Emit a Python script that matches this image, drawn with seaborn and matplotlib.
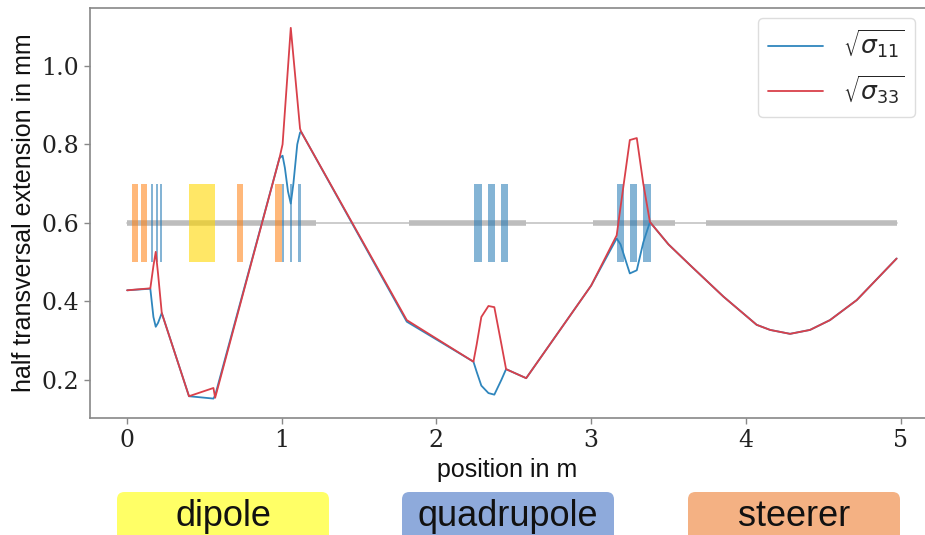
import numpy as np
import pandas as pd
import matplotlib
matplotlib.use("Agg")
import matplotlib.pyplot as plt
import seaborn as sns
from matplotlib.patches import FancyBboxPatch

# beam envelope along the beamline
position = [0.00, 0.15, 0.17, 0.185, 0.20, 0.224, 0.40, 0.558, 0.569, 0.985,
            1.005, 1.02, 1.04, 1.058, 1.075, 1.10, 1.118, 1.125, 1.808, 2.239,
            2.26, 2.29, 2.336, 2.374, 2.42, 2.45, 2.58, 3.00, 3.165, 3.19,
            3.25, 3.295, 3.337, 3.38, 3.50, 3.64, 3.855, 4.07, 4.157, 4.286,
            4.415, 4.544, 4.717, 4.975]
sigma11 = [0.428, 0.432, 0.36, 0.335, 0.345, 0.37, 0.158, 0.152, 0.16, 0.765,
           0.771, 0.74, 0.68, 0.649, 0.70, 0.80, 0.830, 0.832, 0.348, 0.246,
           0.22, 0.185, 0.166, 0.162, 0.20, 0.227, 0.204, 0.44, 0.56, 0.545,
           0.471, 0.479, 0.55, 0.602, 0.545, 0.492, 0.412, 0.34, 0.327, 0.317,
           0.327, 0.352, 0.403, 0.509]
sigma33 = [0.428, 0.433, 0.49, 0.526, 0.47, 0.37, 0.158, 0.179, 0.154, 0.765,
           0.80, 0.884, 0.996, 1.097, 1.024, 0.917, 0.840, 0.832, 0.352, 0.246,
           0.29, 0.36, 0.388, 0.385, 0.29, 0.227, 0.204, 0.44, 0.568, 0.64,
           0.811, 0.816, 0.70, 0.602, 0.545, 0.492, 0.412, 0.34, 0.327, 0.317,
           0.327, 0.352, 0.403, 0.509]

# lattice elements: (start, end) in m
steerers = [(0.03, 0.07), (0.09, 0.13), (0.71, 0.75), (0.955, 1.0)]
quadrupoles = [(0.153, 0.17), (0.185, 0.20), (0.213, 0.228),
               (1.0, 1.017), (1.05, 1.066), (1.107, 1.125),
               (2.245, 2.293), (2.33, 2.377), (2.415, 2.463),
               (3.165, 3.215), (3.25, 3.295), (3.337, 3.385)]
dipoles = [(0.40, 0.565)]
pipes = [(0.0, 1.22), (1.82, 2.58), (3.015, 3.54), (3.74, 4.98)]

df = pd.DataFrame({"position": position, "s11": sigma11, "s33": sigma33})

sns.set_style("white")
plt.rcParams['font.family'] = ['Liberation Sans', 'DejaVu Sans']
plt.rcParams['mathtext.fontset'] = 'dejavusans'

fig = plt.figure(figsize=(9.25, 5.35), dpi=100)
ax = fig.add_axes([90 / 925, 117 / 535, 835 / 925, 410 / 535])

# lattice drawing
ax.plot([0.0, 4.98], [0.6, 0.6], color='#c4c4c4', lw=1.2, zorder=1)
for a, b in pipes:
    ax.plot([a, b], [0.6, 0.6], color='#bdbdbd', lw=4, solid_capstyle='butt', zorder=1)
ax.bar([a for a, b in dipoles], 0.2, width=[b - a for a, b in dipoles], bottom=0.5,
       align='edge', color='#ffd700', alpha=0.6, lw=0, zorder=2)
ax.bar([a for a, b in steerers], 0.2, width=[b - a for a, b in steerers], bottom=0.5,
       align='edge', color='#ff7f0e', alpha=0.55, lw=0, zorder=2)
ax.bar([a for a, b in quadrupoles], 0.2, width=[b - a for a, b in quadrupoles], bottom=0.5,
       align='edge', color='#1f77b4', alpha=0.55, lw=0, zorder=2)

sns.lineplot(data=df, x="position", y="s11", ax=ax, color='#2f86bd', lw=1.3,
             estimator=None, label=r'$\sqrt{\sigma_{11}}$', zorder=3)
sns.lineplot(data=df, x="position", y="s33", ax=ax, color='#d9404a', lw=1.3,
             estimator=None, label=r'$\sqrt{\sigma_{33}}$', zorder=4)

ax.set_xlim(-0.24, (925 - 127) / 154.7)
ax.set_ylim(0.1025, 1.1475)
ax.set_xticks([0, 1, 2, 3, 4, 5])
ax.set_yticks([0.2, 0.4, 0.6, 0.8, 1.0])
ax.set_xticklabels(['0', '1', '2', '3', '4', '5'], family='DejaVu Serif', fontsize=17)
ax.set_yticklabels(['0.2', '0.4', '0.6', '0.8', '1.0'], family='DejaVu Serif', fontsize=17)
ax.tick_params(axis='both', length=4, width=1, color='#888888', labelcolor='#222222',
               direction='out', bottom=True, left=True, pad=4)
for side in ['left', 'top', 'bottom']:
    ax.spines[side].set_color('#888888')
    ax.spines[side].set_linewidth(1.2)
ax.spines['right'].set_visible(False)

ax.set_xlabel('position in m', fontsize=18, labelpad=4, color='#111111')
ax.set_ylabel('half transversal extension in mm', fontsize=18, labelpad=4, color='#111111')

leg = ax.legend(loc='upper right', fontsize=18, borderaxespad=0.4, handlelength=2.2,
                frameon=True, fancybox=True, framealpha=1, edgecolor='#dddddd')

# colour key boxes below the chart
keys = [("dipole", '#ffff66', 117), ("quadrupole", '#8eaadb', 402), ("steerer", '#f4b183', 688)]
for name, col, x0 in keys:
    box = FancyBboxPatch((x0 / 925, -0.03), 212 / 925, 0.03 + 43 / 535,
                         boxstyle="round,pad=0,rounding_size=0.008",
                         mutation_aspect=925 / 535, transform=fig.transFigure,
                         facecolor=col, edgecolor='none')
    fig.patches.append(box)
    fig.text((x0 + 106) / 925, 19 / 535, name, ha='center', va='center', fontsize=26,
             color='#111111')

fig.savefig('out.png', dpi=100)
